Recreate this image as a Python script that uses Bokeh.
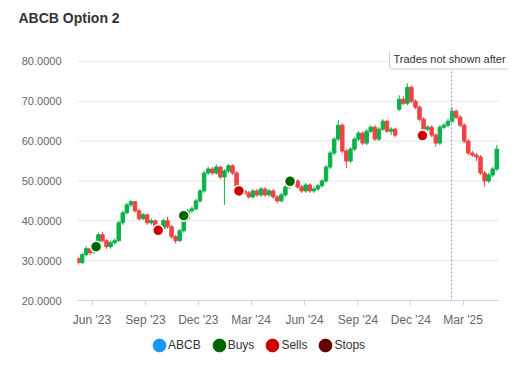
import pandas as pd
from bokeh.plotting import figure
from bokeh.layouts import column
from bokeh.models import (ColumnDataSource, FixedTicker, DatetimeTickFormatter,
                          NumeralTickFormatter, Span, Label, Legend, LegendItem,
                          Range1d, Title)
from bokeh.embed import file_html
from bokeh.resources import INLINE

# ---------------- data ----------------
start_date = "2023-05-08"
n_weeks = 104
opens = [30.5, 29.5, 31.5, 33.0, 32.0, 34.0, 36.5, 35.0, 33.5, 34.5,
         35.0, 39.5, 42.0, 44.0, 44.8, 42.5, 40.5, 41.5, 39.5, 40.0,
         38.5, 38.0, 40.0, 38.5, 36.0, 35.0, 37.5, 40.5, 42.5, 43.0,
         45.0, 47.5, 52.0, 53.0, 52.0, 53.5, 51.0, 52.5, 53.8, 52.0,
         48.5, 47.5, 47.0, 46.0, 47.5, 46.5, 48.0, 46.5, 47.5, 46.0,
         45.0, 46.5, 48.5, 49.5, 50.0, 48.5, 47.5, 49.0, 47.5, 48.0,
         48.8, 50.0, 53.5, 57.0, 60.5, 64.0, 57.5, 55.0, 58.0, 60.5,
         62.0, 59.5, 62.5, 63.5, 60.5, 63.0, 65.0, 62.5, 63.0, 68.0,
         70.5, 69.5, 73.5, 70.0, 68.5, 65.5, 63.0, 63.5, 61.5, 59.5,
         63.5, 64.0, 65.0, 67.5, 66.0, 64.0, 60.0, 57.0, 56.5, 56.0,
         52.0, 50.0, 51.5, 53.0]
closes = [29.5, 31.5, 33.0, 32.0, 34.0, 36.5, 35.0, 33.5, 34.5, 35.0,
          39.5, 42.0, 44.0, 44.8, 42.5, 40.5, 41.5, 39.5, 40.0, 38.5,
          38.0, 40.0, 38.5, 36.0, 35.0, 37.5, 40.5, 42.5, 43.0, 45.0,
          47.5, 52.0, 53.0, 52.0, 53.5, 51.0, 52.5, 53.8, 52.0, 48.5,
          47.5, 47.0, 46.0, 47.5, 46.5, 48.0, 46.5, 47.5, 46.0, 45.0,
          46.5, 48.5, 49.5, 50.0, 48.5, 47.5, 49.0, 47.5, 48.0, 48.8,
          50.0, 53.5, 57.0, 60.5, 64.0, 57.5, 55.0, 58.0, 60.5, 62.0,
          59.5, 62.5, 63.5, 60.5, 63.0, 65.0, 62.5, 63.0, 61.5, 70.5,
          69.5, 73.5, 70.0, 68.5, 65.5, 63.0, 63.5, 61.5, 59.5, 63.5,
          64.0, 65.0, 67.5, 66.0, 64.0, 60.0, 57.0, 56.5, 56.0, 52.0,
          50.0, 51.5, 53.0, 58.0]
highs = [31.0, 32.0, 33.6, 33.5, 34.5, 37.0, 37.2, 35.4, 35.0, 35.6,
         40.0, 42.6, 44.5, 45.3, 45.0, 43.0, 42.0, 41.8, 40.6, 40.3,
         39.0, 40.5, 41.0, 39.0, 36.5, 38.0, 41.0, 43.0, 43.6, 45.5,
         48.0, 52.6, 53.6, 53.5, 54.2, 53.8, 53.0, 54.3, 54.2, 52.5,
         49.0, 48.0, 47.5, 48.0, 48.0, 48.5, 48.4, 48.0, 48.0, 46.5,
         47.0, 49.0, 50.0, 50.6, 50.4, 49.0, 49.5, 49.4, 48.6, 49.3,
         50.5, 54.0, 57.5, 61.0, 65.3, 64.5, 58.0, 58.5, 61.0, 62.5,
         62.4, 63.0, 64.0, 64.0, 63.5, 65.5, 65.4, 63.5, 63.4, 71.5,
         71.3, 74.5, 74.0, 70.5, 69.0, 66.0, 64.0, 64.0, 62.0, 64.0,
         64.6, 65.6, 68.5, 68.0, 66.5, 64.5, 60.5, 57.5, 57.0, 56.5,
         52.5, 52.0, 53.5, 59.0]
lows = [29.0, 29.2, 31.0, 31.4, 31.8, 33.8, 34.6, 33.0, 33.0, 34.0,
        34.8, 39.0, 41.6, 43.5, 42.0, 40.0, 40.2, 39.0, 39.0, 38.0,
        37.5, 37.6, 38.0, 35.5, 34.3, 34.8, 37.0, 40.0, 42.0, 42.6,
        44.5, 47.0, 51.5, 51.5, 51.6, 50.5, 44.0, 52.0, 51.5, 48.0,
        47.0, 46.5, 45.5, 45.6, 46.0, 46.0, 46.0, 46.0, 45.5, 44.4,
        44.6, 46.0, 48.0, 49.0, 48.0, 47.0, 47.0, 47.0, 47.0, 47.5,
        48.3, 49.6, 53.0, 56.5, 60.0, 57.0, 53.2, 54.5, 57.5, 60.0,
        59.0, 59.0, 62.0, 60.0, 60.0, 62.6, 62.0, 61.5, 61.0, 67.5,
        69.0, 69.0, 69.5, 68.0, 65.0, 62.5, 62.5, 61.0, 58.6, 59.0,
        63.0, 63.5, 64.6, 65.5, 63.5, 59.5, 56.5, 56.0, 55.0, 51.5,
        48.6, 49.5, 51.0, 52.5]

buy_dates = ["2023-06-08", "2023-11-06", "2024-05-07"]
buy_prices = [33.5, 41.3, 49.9]
sell_dates = ["2023-09-23", "2024-02-09", "2024-12-21"]
sell_prices = [37.6, 47.5, 61.4]
cutoff_date = "2025-02-09"
cutoff_text = "Trades not shown after"
title_text = "ABCB Option 2"
y_ticks = [20, 30, 40, 50, 60, 70, 80]
x_tick_dates = ["2023-06-01", "2023-09-01", "2023-12-01", "2024-03-01",
                "2024-06-01", "2024-09-01", "2024-12-01", "2025-03-01"]
legend_names = ["ABCB", "Buys", "Sells", "Stops"]
legend_colors = ["#1596fc", "#006400", "#cc0000", "#660000"]

UP = "#0db14b"
DOWN = "#ef4444"
FONT = "Liberation Sans"

x_start = pd.Timestamp("2023-05-07")
x_axis_end = pd.Timestamp("2025-05-01")
x_view_end = x_axis_end + pd.Timedelta(days=17.2)   # room for the clipped note box

dates = pd.date_range(start_date, periods=n_weeks, freq="7D")
colors = [UP if c >= o else DOWN for o, c in zip(opens, closes)]
src = ColumnDataSource(dict(date=dates, open=opens, close=closes,
                            high=highs, low=lows, color=colors))

p = figure(width=508, height=329, x_axis_type="datetime",
           output_backend="svg", toolbar_location=None,
           x_range=Range1d(x_start, x_view_end),
           y_range=Range1d(20, 82.49),
           min_border_left=77, min_border_right=0, min_border_top=51,
           min_border_bottom=27)
p.outline_line_color = None
p.background_fill_color = "white"

# spacer between title and plot area, then the title itself
p.add_layout(Title(text=" ", text_font_size="1px", standoff=23), "above")
p.add_layout(Title(text=title_text, text_font=FONT, text_font_size="14px",
                   text_font_style="bold", text_color="#333333", align="left",
                   offset=-59, standoff=0), "above")

# horizontal grid lines, limited to the axis extent
p.xgrid.visible = False
p.ygrid.visible = False
p.segment(x0=[x_start] * len(y_ticks), x1=[x_axis_end] * len(y_ticks),
          y0=y_ticks, y1=y_ticks, line_color="#e6e6e6", line_width=1)

# candles
p.segment(x0="date", y0="high", x1="date", y1="low", color="color",
          line_width=1, source=src)
p.vbar(x="date", width=6 * 86400000, top="open", bottom="close",
       fill_color="color", line_color="color", line_width=1, source=src)

# cutoff line
span = Span(location=pd.Timestamp(cutoff_date).value / 1e6, dimension="height",
            line_color="#8a8ae6", line_dash="2 2", line_width=1)
p.add_layout(span)

# trade markers
p.scatter(x=pd.to_datetime(buy_dates), y=buy_prices, marker="circle",
          size=11, fill_color=legend_colors[1], line_color="white", line_width=1.5)
p.scatter(x=pd.to_datetime(sell_dates), y=sell_prices, marker="circle",
          size=11, fill_color=legend_colors[2], line_color="white", line_width=1.5)

# axes
p.yaxis.ticker = FixedTicker(ticks=y_ticks)
p.yaxis.formatter = NumeralTickFormatter(format="0.0000")
p.yaxis.axis_line_color = None
p.yaxis.major_tick_line_color = None
p.yaxis.minor_tick_line_color = None
p.yaxis.major_label_standoff = 10
p.yaxis.major_label_text_font_size = "11px"
p.yaxis.major_label_text_color = "#666666"
p.yaxis.major_label_text_font = FONT

p.xaxis.ticker = FixedTicker(ticks=[pd.Timestamp(d).value / 1e6 for d in x_tick_dates])
p.xaxis.formatter = DatetimeTickFormatter(days="%b '%y", months="%b '%y", years="%b '%y")
p.xaxis.bounds = (x_start.value / 1e6, x_axis_end.value / 1e6)
p.xaxis.axis_line_color = "#ccd6eb"
p.xaxis.major_tick_line_color = "#ccd6eb"
p.xaxis.major_tick_out = 5
p.xaxis.major_tick_in = 0
p.xaxis.minor_tick_line_color = None
p.xaxis.major_label_standoff = 7
p.xaxis.major_label_text_font_size = "12px"
p.xaxis.major_label_text_color = "#666666"
p.xaxis.major_label_text_font = FONT

# cutoff label
p.add_layout(Label(x=pd.Timestamp(cutoff_date).value / 1e6, y=241.5, y_units="screen",
                   x_offset=-62, text=cutoff_text,
                   text_font=FONT, text_font_size="11px",
                   text_color="#333333", text_baseline="middle", text_align="left",
                   background_fill_color="white", border_line_color="#cccccc",
                   border_line_width=1, padding=4, border_radius=3))

# ---------------- legend strip ----------------
lg = figure(width=508, height=36, output_backend="svg", toolbar_location=None,
            x_range=Range1d(0, 1), y_range=Range1d(0, 1), min_border=0)
lg.axis.visible = False
lg.grid.visible = False
lg.outline_line_color = None
items = []
for name, col in zip(legend_names, legend_colors):
    r = lg.ellipse(x=[-1], y=[-1], width=10, height=10, width_units="screen",
                   height_units="screen", fill_color=col, line_color=col)
    items.append(LegendItem(label=name, renderers=[r]))
legend = Legend(items=items, orientation="horizontal", location=(74, 12),
                glyph_width=16, glyph_height=16, label_standoff=1, spacing=10,
                label_text_font_size="12px", label_text_color="#333333",
                label_text_font=FONT, background_fill_alpha=0,
                border_line_color=None, padding=0, margin=0)
lg.add_layout(legend)

layout = column(p, lg, spacing=0)
open("out.html", "w").write(file_html(layout, INLINE))
